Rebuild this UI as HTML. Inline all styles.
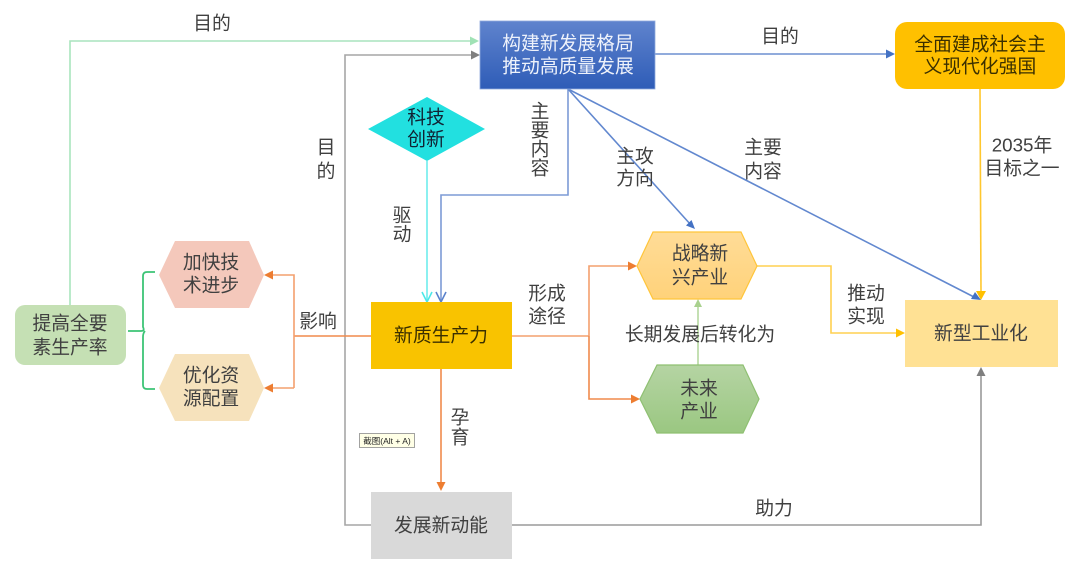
<!DOCTYPE html>
<html><head><meta charset="utf-8"><style>
html,body{margin:0;padding:0;background:#fff}
svg{display:block;filter:blur(.3px)}
text{font-family:"Liberation Sans","Noto Sans CJK SC",sans-serif;font-size:18.8px;fill:#404040;text-anchor:middle;dominant-baseline:central}
.l{fill:none;stroke-width:1.6}
</style></head><body>
<svg width="1080" height="568" viewBox="0 0 1080 568" xmlns="http://www.w3.org/2000/svg">
<defs>
<linearGradient id="b" x1="0" y1="0" x2="0" y2="1"><stop offset="0" stop-color="#5f83cd"/><stop offset="1" stop-color="#2e5cb7"/></linearGradient>
<linearGradient id="g" x1="0" y1="0" x2="0" y2="1"><stop offset="0" stop-color="#b5d4a3"/><stop offset="1" stop-color="#9ac781"/></linearGradient>
<linearGradient id="y" x1="0" y1="0" x2="0" y2="1"><stop offset="0" stop-color="#ffdc97"/><stop offset="1" stop-color="#ffd27a"/></linearGradient>
</defs>

<!-- connectors -->
<path class="l" stroke="#a9e4bd" d="M70 305V41H472"/><path fill="#a0e2b5" d="M479 41l-9-4.500v9z"/>
<path class="l" stroke="#a6a6a6" d="M371 525H345V55H473"/><path fill="#7f7f7f" d="M480 55l-9-4.500v9z"/>
<path class="l" stroke="#9a9a9a" d="M512 525H981V374"/><path fill="#7f7f7f" d="M981 367l-4.500 9h9z"/>
<path class="l" stroke="#6d8fd0" d="M655 54H888"/><path fill="#4472c4" d="M895 54l-9-4.500v9z"/>
<path class="l" stroke="#7d9bd6" d="M568 89V195H441V301"/><path class="l" stroke="#5b82cc" d="M436 292l5 10 5-10"/>
<path class="l" stroke="#6288cf" stroke-width="1.300" d="M568 89L691 225"/><path fill="#4472c4" d="M695 229l-9-3.500 5.500-5.500z"/>
<path class="l" stroke="#6288cf" stroke-width="1.300" d="M568 89L974 297"/><path fill="#4472c4" d="M981 300l-10-1 4-7z"/>
<path class="l" stroke="#ffc72e" d="M980 89L981 293"/><path fill="#ffc000" d="M981 300l-5-9h10z"/>
<path class="l" stroke="#ffd050" d="M757 266H831V333H898"/><path fill="#ffc000" d="M905 333l-9-4.500v9z"/>
<path class="l" stroke="#6eecec" d="M427 161V301"/><path class="l" stroke="#4de8e8" d="M422 292l5 10 5-10"/>
<path class="l" stroke="#f4a06e" d="M512 336H589M589 336V266H630"/><path fill="#ed7d31" d="M637 266l-9-4.500v9z"/>
<path class="l" stroke="#f08a4c" d="M589 336V399H633"/><path fill="#ed7d31" d="M640 399l-9-4.500v9z"/>
<path class="l" stroke="#f08a4c" d="M371 336H294"/>
<path class="l" stroke="#f4a06e" d="M294 388V275H271"/><path fill="#ed7d31" d="M264 275l9-4.500v9z"/>
<path class="l" stroke="#f4a06e" d="M294 388H271"/><path fill="#ed7d31" d="M264 388l9-4.500v9z"/>
<path class="l" stroke="#f08a4c" d="M441 369V484"/><path fill="#ed7d31" d="M441 491l-4.500-9h9z"/>
<path class="l" stroke="#b5d8a0" d="M698 365V306"/><path fill="#a9d18e" d="M698 299l-4 8h8z"/>
<path fill="none" stroke="#3cc476" stroke-width="1.800" d="M128 331H141Q145 331 143 327V276Q143 272 147 272H155M145 331Q143 333 143 337V385Q143 389 147 389H155"/>

<!-- nodes -->
<rect x="480" y="21" width="175" height="68" fill="url(#b)" stroke="#8faadc" stroke-width=".8"/>
<rect x="895" y="22" width="170" height="67" rx="12" fill="#ffc000"/>
<rect x="905" y="300" width="153" height="67" fill="#ffe194"/>
<rect x="371" y="302" width="141" height="67" fill="#f9c300"/>
<rect x="371" y="492" width="141" height="67" fill="#d9d9d9"/>
<rect x="15" y="305" width="111" height="60" rx="10" fill="#c5e0b4"/>
<polygon points="159,275 175,241 249,241 264,275 249,308 175,308" fill="#f4c8bb"/>
<polygon points="159,388 175,354 249,354 264,388 249,421 175,421" fill="#f6e2bc"/>
<polygon points="368,129 427,97 485,129 427,161" fill="#22e0e0"/>
<polygon points="637,266 653,232 741,232 757,266 741,299 653,299" fill="url(#y)" stroke="#ffc53a" stroke-width="1.200"/>
<polygon points="640,399 657,365 743,365 759,399 743,433 657,433" fill="url(#g)" stroke="#8fc072" stroke-width="1.200"/>
<rect x="359.500" y="433.500" width="55" height="14" fill="#ffffe6" stroke="#8c8c8c" stroke-width=".8"/>

<!-- node text -->
<text x="568" y="43" style="fill:#eef2fb">构建新发展格局</text>
<text x="568" y="66" style="fill:#eef2fb">推动高质量发展</text>
<text x="980" y="44" style="fill:#3a2f00">全面建成社会主</text><text x="980" y="66" style="fill:#3a2f00">义现代化强国</text>
<text x="981" y="333">新型工业化</text>
<text x="441" y="335" style="fill:#3a2f00">新质生产力</text>
<text x="441" y="525">发展新动能</text>
<text x="70" y="323">提高全要</text><text x="70" y="347">素生产率</text>
<text x="211" y="262">加快技</text><text x="211" y="285">术进步</text>
<text x="211" y="375">优化资</text><text x="211" y="398">源配置</text>
<text x="426" y="117" style="fill:#123">科技</text><text x="426" y="139" style="fill:#123">创新</text>
<text x="700" y="253">战略新</text><text x="700" y="277">兴产业</text>
<text x="699" y="388">未来</text><text x="699" y="411">产业</text>
<text x="387" y="441" style="font-size:8.500px;fill:#222">截图(Alt + A)</text>

<!-- edge labels -->
<text x="212" y="23">目的</text>
<text x="780" y="36">目的</text>
<text x="326" y="147">目</text><text x="326" y="171">的</text>
<text x="540" y="111">主</text><text x="540" y="130">要</text><text x="540" y="149">内</text><text x="540" y="168">容</text>
<text x="635" y="156">主攻</text><text x="635" y="178">方向</text>
<text x="763" y="147">主要</text><text x="763" y="171">内容</text>
<text x="1022" y="145">2035年</text><text x="1022" y="168">目标之一</text>
<text x="402" y="215">驱</text><text x="402" y="234">动</text>
<text x="547" y="293">形成</text><text x="547" y="316">途径</text>
<text x="318" y="321">影响</text>
<text x="700" y="334">长期发展后转化为</text>
<text x="866" y="293">推动</text><text x="866" y="316">实现</text>
<text x="460" y="417">孕</text><text x="460" y="437">育</text>
<text x="774" y="508">助力</text>
</svg>
</body></html>
